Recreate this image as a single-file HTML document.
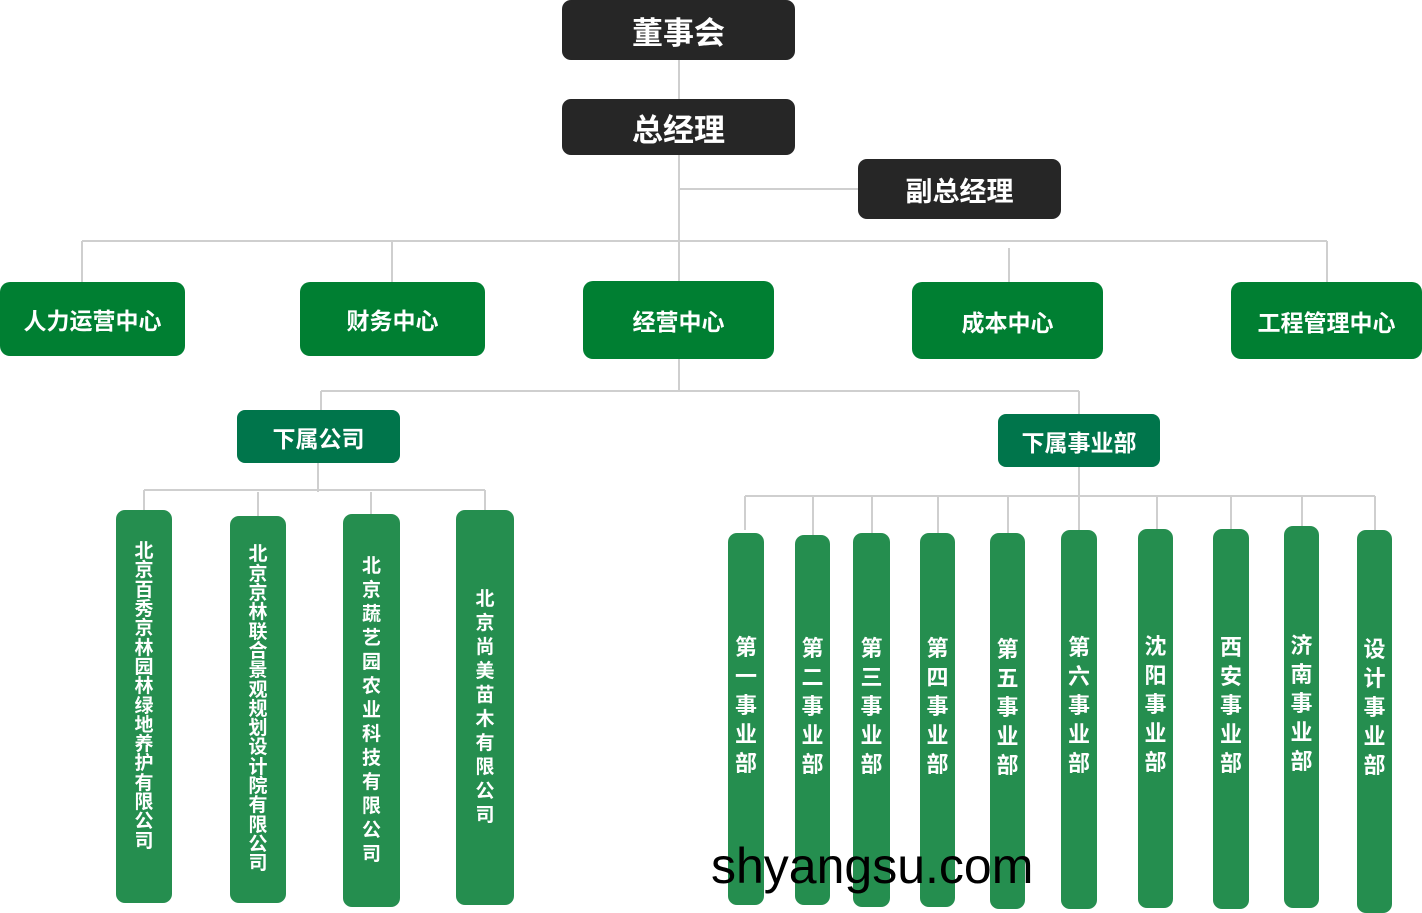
<!DOCTYPE html>
<html><head><meta charset="utf-8">
<style>
html,body{margin:0;padding:0;background:#fff;}
body{width:1422px;height:913px;position:relative;overflow:hidden;font-family:"Liberation Sans","Noto Sans CJK SC",sans-serif;}
.b{position:absolute;display:flex;align-items:center;justify-content:center;color:#fff;font-weight:bold;box-sizing:border-box;}
.k{background:#262626;border-radius:9px;font-size:31px;}
.g{background:#007f32;border-radius:10px;font-size:23px;}
.t{background:#00754b;border-radius:8px;font-size:23px;}
.c{background:#258e4f;border-radius:9px;font-size:19px;text-align:center;flex-direction:column;}
.c span{display:block;}
.r{font-size:22px;line-height:29px;padding-bottom:28px;}
</style></head><body>
<svg width="1422" height="913" style="position:absolute;left:0;top:0" fill="none" stroke="#cfcfcf" stroke-width="2">
<path d="M679 60V392M679 189H858M82 241H1327M82 241V282M392 241V282M1009 248V282M1327 241V282"/>
<path d="M321 391H1079M321 391V410M1079 391V414"/>
<path d="M318 463V492M144 490H485M144 490V510M258 492V516M371 492V514M485 490V510"/>
<path d="M1079 467V530M745 496H1375M745 496V530M813 496V535M872 496V533M938 496V533M1008 496V533M1157 496V529M1231 496V529M1302 496V526M1375 496V530"/>
</svg>
<div class="b k" style="left:562px;top:0;width:233px;height:60px">董事会</div>
<div class="b k" style="left:562px;top:99px;width:233px;height:56px">总经理</div>
<div class="b k" style="left:858px;top:159px;width:203px;height:60px;font-size:27px">副总经理</div>
<div class="b g" style="left:0;top:282px;width:185px;height:74px">人力运营中心</div>
<div class="b g" style="left:300px;top:282px;width:185px;height:74px">财务中心</div>
<div class="b g" style="left:583px;top:281px;width:191px;height:78px">经营中心</div>
<div class="b g" style="left:912px;top:282px;width:191px;height:77px">成本中心</div>
<div class="b g" style="left:1231px;top:282px;width:191px;height:77px">工程管理中心</div>
<div class="b t" style="left:237px;top:410px;width:163px;height:53px">下属公司</div>
<div class="b t" style="left:998px;top:414px;width:162px;height:53px">下属事业部</div>

<div class="b c" style="left:116px;top:510px;width:56px;height:393px;line-height:19.3px;padding-bottom:20px"><span>北<br>京<br>百<br>秀<br>京<br>林<br>园<br>林<br>绿<br>地<br>养<br>护<br>有<br>限<br>公<br>司</span></div>
<div class="b c" style="left:230px;top:516px;width:56px;height:387px;line-height:19.3px"><span>北<br>京<br>京<br>林<br>联<br>合<br>景<br>观<br>规<br>划<br>设<br>计<br>院<br>有<br>限<br>公<br>司</span></div>
<div class="b c" style="left:343px;top:514px;width:57px;height:393px;line-height:24px"><span>北<br>京<br>蔬<br>艺<br>园<br>农<br>业<br>科<br>技<br>有<br>限<br>公<br>司</span></div>
<div class="b c" style="left:456px;top:510px;width:58px;height:395px;line-height:24px"><span>北<br>京<br>尚<br>美<br>苗<br>木<br>有<br>限<br>公<br>司</span></div>

<div class="b c r" style="left:728px;top:533px;width:36px;height:372px"><span>第<br>一<br>事<br>业<br>部</span></div>
<div class="b c r" style="left:795px;top:535px;width:35px;height:370px"><span>第<br>二<br>事<br>业<br>部</span></div>
<div class="b c r" style="left:853px;top:533px;width:37px;height:374px"><span>第<br>三<br>事<br>业<br>部</span></div>
<div class="b c r" style="left:920px;top:533px;width:35px;height:374px"><span>第<br>四<br>事<br>业<br>部</span></div>
<div class="b c r" style="left:990px;top:533px;width:35px;height:376px"><span>第<br>五<br>事<br>业<br>部</span></div>
<div class="b c r" style="left:1061px;top:530px;width:36px;height:379px"><span>第<br>六<br>事<br>业<br>部</span></div>
<div class="b c r" style="left:1138px;top:529px;width:35px;height:379px"><span>沈<br>阳<br>事<br>业<br>部</span></div>
<div class="b c r" style="left:1213px;top:529px;width:36px;height:380px"><span>西<br>安<br>事<br>业<br>部</span></div>
<div class="b c r" style="left:1284px;top:526px;width:35px;height:382px"><span>济<br>南<br>事<br>业<br>部</span></div>
<div class="b c r" style="left:1357px;top:530px;width:35px;height:383px"><span>设<br>计<br>事<br>业<br>部</span></div>

<div style="position:absolute;left:711px;top:841px;font-size:50px;color:#000;font-family:'Liberation Sans',sans-serif;line-height:50px;white-space:nowrap">shyangsu.com</div>
</body></html>
